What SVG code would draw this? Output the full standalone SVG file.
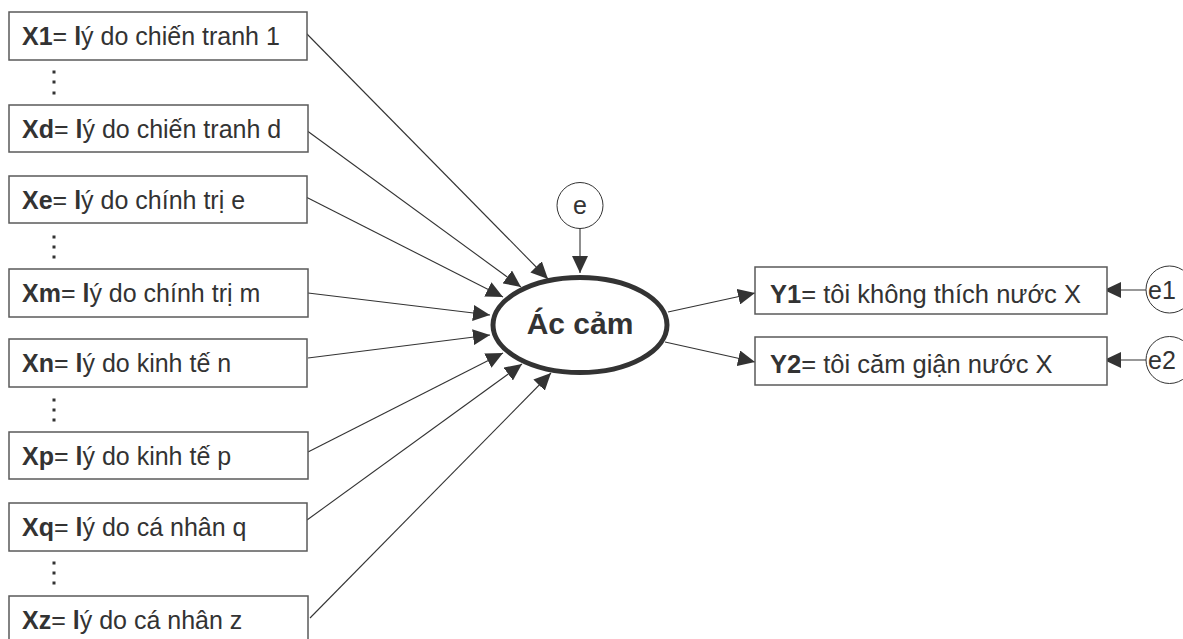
<svg xmlns="http://www.w3.org/2000/svg" width="1183" height="639" viewBox="0 0 1183 639">
<style>
  .box { fill: #fff; stroke: #5a5a5a; stroke-width: 1.5; }
  .lbl { font-family: "Liberation Sans", Arial, sans-serif; font-size: 25px; fill: #333; }
  .b { font-weight: bold; }
  .conn { stroke: #333; stroke-width: 1.1; fill: none; marker-end: url(#arr); }
  .dot { fill: #333; }
  .circ { fill: #fff; stroke: #333; stroke-width: 1; }
</style>
<defs>
  <marker id="arr" markerUnits="userSpaceOnUse" markerWidth="18" markerHeight="16" refX="17" refY="8" orient="auto">
    <path d="M0,0 L17,8 L0,16 z" fill="#333"/>
  </marker>
</defs>
<rect width="1183" height="639" fill="#fff"/>

<g id="connectors">
  <line class="conn" x1="306" y1="33" x2="548" y2="279"/>
  <line class="conn" x1="306" y1="130" x2="521" y2="287"/>
  <line class="conn" x1="306" y1="197" x2="503" y2="297"/>
  <line class="conn" x1="308" y1="293" x2="490" y2="315"/>
  <line class="conn" x1="308" y1="358" x2="490" y2="335"/>
  <line class="conn" x1="308" y1="452" x2="503" y2="353"/>
  <line class="conn" x1="307" y1="520" x2="522" y2="364"/>
  <line class="conn" x1="310" y1="618" x2="551" y2="373"/>
  <line class="conn" x1="580" y1="228" x2="580" y2="273"/>
  <line class="conn" x1="668" y1="312" x2="755" y2="293"/>
  <line class="conn" x1="665" y1="342" x2="755" y2="362"/>
  <line class="conn" x1="1146" y1="290" x2="1104" y2="290"/>
  <line class="conn" x1="1146" y1="360" x2="1104" y2="360"/>
</g>

<g id="X1"><rect class="box" x="9" y="12" width="298" height="48"/>
  <text class="lbl" x="22" y="45"><tspan class="b">X1</tspan>= <tspan class="b">l</tspan>ý do chiến tranh 1</text></g>
<g id="dots1"><rect class="dot" x="52.5" y="70.5" width="3" height="3"/><rect class="dot" x="52.5" y="80.5" width="3" height="3"/><rect class="dot" x="52.5" y="91.5" width="3" height="3"/></g>
<g id="Xd"><rect class="box" x="9" y="105" width="299" height="47"/>
  <text class="lbl" x="22" y="138"><tspan class="b">Xd</tspan>= <tspan class="b">l</tspan>ý do chiến tranh d</text></g>
<g id="Xe"><rect class="box" x="9" y="176" width="298" height="47"/>
  <text class="lbl" x="22" y="209"><tspan class="b">Xe</tspan>= <tspan class="b">l</tspan>ý do chính trị e</text></g>
<g id="dots2"><rect class="dot" x="52.5" y="235.5" width="3" height="3"/><rect class="dot" x="52.5" y="245.5" width="3" height="3"/><rect class="dot" x="52.5" y="255.5" width="3" height="3"/></g>
<g id="Xm"><rect class="box" x="9" y="269" width="299" height="48"/>
  <text class="lbl" x="22" y="302"><tspan class="b">Xm</tspan>= <tspan class="b">l</tspan>ý do chính trị m</text></g>
<g id="Xn"><rect class="box" x="9" y="339" width="298" height="48"/>
  <text class="lbl" x="22" y="372"><tspan class="b">Xn</tspan>= <tspan class="b">l</tspan>ý do kinh tế n</text></g>
<g id="dots3"><rect class="dot" x="52.5" y="398.5" width="3" height="3"/><rect class="dot" x="52.5" y="408.5" width="3" height="3"/><rect class="dot" x="52.5" y="418.5" width="3" height="3"/></g>
<g id="Xp"><rect class="box" x="9" y="432" width="299" height="47"/>
  <text class="lbl" x="22" y="465"><tspan class="b">Xp</tspan>= <tspan class="b">l</tspan>ý do kinh tế p</text></g>
<g id="Xq"><rect class="box" x="9" y="503" width="298" height="48"/>
  <text class="lbl" x="22" y="536"><tspan class="b">Xq</tspan>= <tspan class="b">l</tspan>ý do cá nhân q</text></g>
<g id="dots4"><rect class="dot" x="52.5" y="561.5" width="3" height="3"/><rect class="dot" x="52.5" y="571.5" width="3" height="3"/><rect class="dot" x="52.5" y="581.5" width="3" height="3"/></g>
<g id="Xz"><rect class="box" x="9" y="596" width="299" height="48"/>
  <text class="lbl" x="22" y="629"><tspan class="b">Xz</tspan>= <tspan class="b">l</tspan>ý do cá nhân z</text></g>

<g id="e"><circle class="circ" cx="580" cy="205.5" r="23"/>
  <text class="lbl" x="580" y="214" text-anchor="middle">e</text></g>

<g id="AcCam"><ellipse cx="580" cy="325" rx="87" ry="47.5" fill="#fff" stroke="#333" stroke-width="5"/>
  <text class="lbl b" x="580" y="334" text-anchor="middle" style="font-size:30px">Ác cảm</text></g>

<g id="Y1"><rect class="box" x="755" y="267" width="352" height="47"/>
  <text class="lbl" x="770" y="303" style="font-size:25.5px"><tspan class="b">Y1</tspan>= tôi không thích nước X</text></g>
<g id="Y2"><rect class="box" x="755" y="337" width="352" height="48"/>
  <text class="lbl" x="770" y="373" style="font-size:25.5px"><tspan class="b">Y2</tspan>= tôi căm giận nước X</text></g>

<g id="e1"><circle class="circ" cx="1169.5" cy="289.5" r="23.5"/>
  <text class="lbl" x="1148" y="299">e1</text></g>
<g id="e2"><circle class="circ" cx="1169.5" cy="360" r="23.5"/>
  <text class="lbl" x="1148" y="369">e2</text></g>
</svg>
